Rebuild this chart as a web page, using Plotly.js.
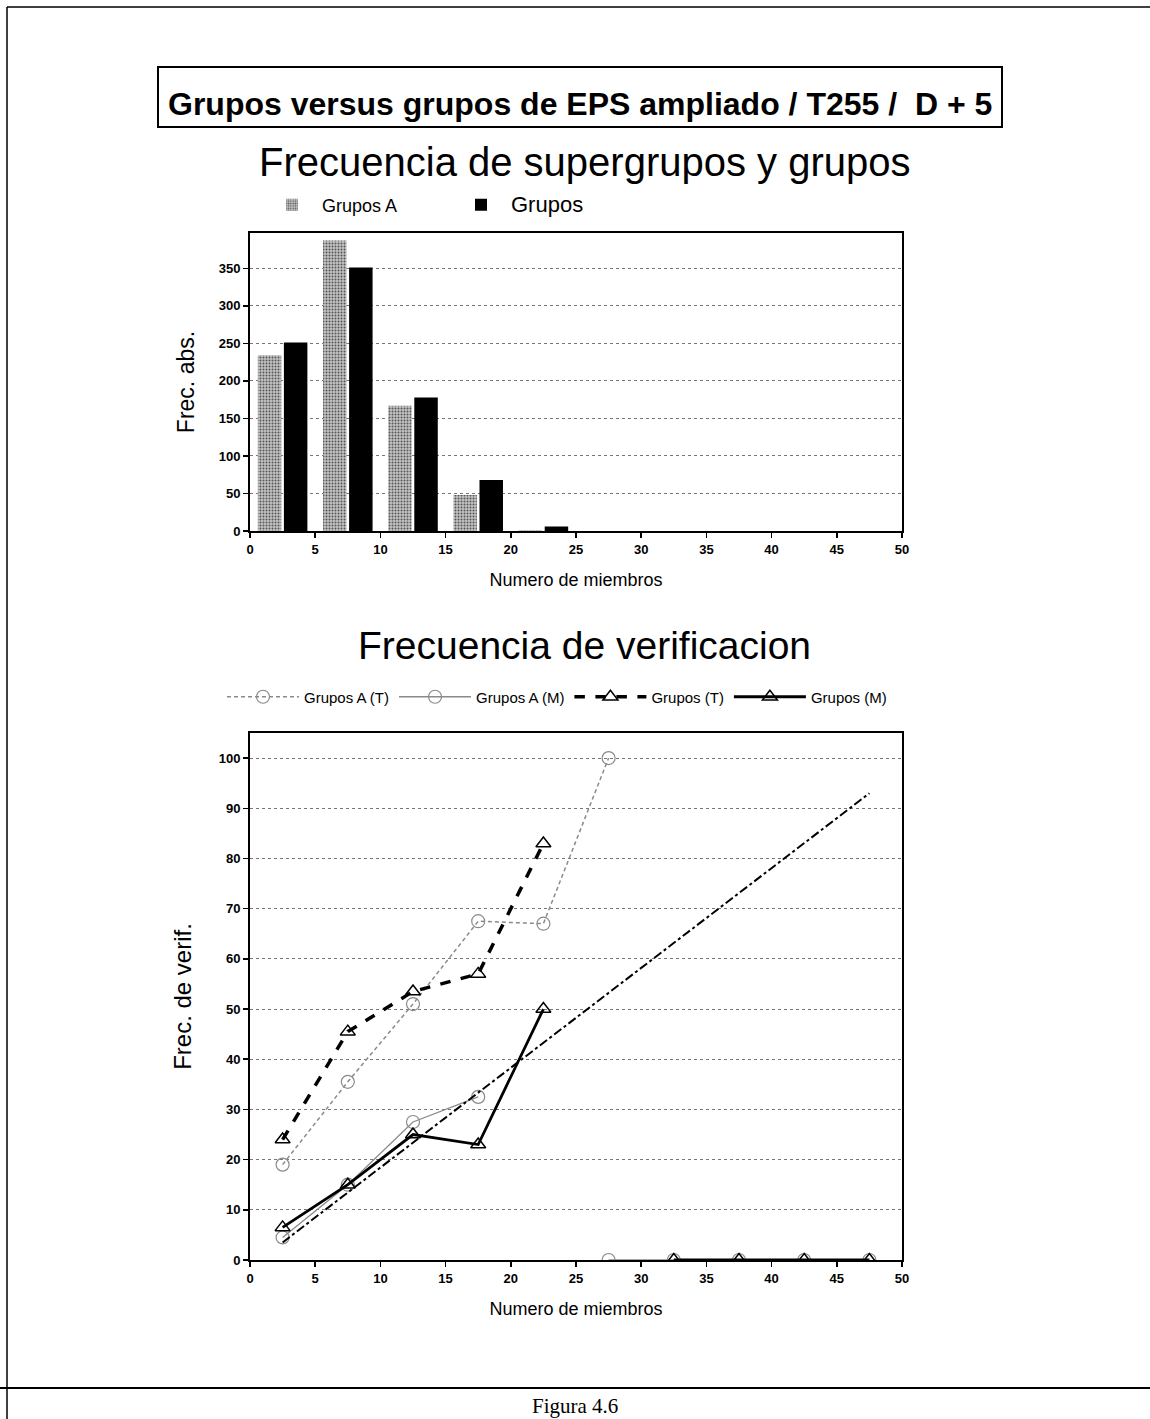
<!DOCTYPE html>
<html>
<head>
<meta charset="utf-8">
<script src="https://cdn.plot.ly/plotly-3.0.1.min.js"></script>
<style>html,body{margin:0;padding:0;background:#fff;}#chart{width:1150px;height:1419px;}</style>
</head>
<body>
<div id="chart"></div>
<script>
// ---- Data: frequency of supergroups and groups ----
const binCenters = [2.5, 7.5, 12.5, 17.5, 22.5, 27.5, 32.5, 37.5, 42.5, 47.5];
const gruposA_freq = [234, 387, 167, 48, 1, 0, 0, 0, 0, 0];
const grupos_freq  = [251, 351, 178, 68, 6, 0, 0, 0, 0, 0];

// ---- Data: verification frequency ----
const verifX = [2.5, 7.5, 12.5, 17.5, 22.5, 27.5, 32.5, 37.5, 42.5, 47.5];
const gruposA_T = [19, 35.5, 51, 67.5, 67, 100, null, null, null, null];
const gruposA_M = [4.5, 15, 27.5, 32.5, null, 0, 0, 0, 0, 0];
const grupos_T  = [24, 45.5, 53.5, 57, 83, null, null, null, null, null];
const grupos_M  = [6.5, 15, 25, 23, 50, null, 0, 0, 0, 0];
const diagX = [2.5, 47.5];
const diagY = [3.5, 93];

const xTicks = [0, 5, 10, 15, 20, 25, 30, 35, 40, 45, 50];
const yTicksTop = [0, 50, 100, 150, 200, 250, 300, 350];
const yTicksBottom = [0, 10, 20, 30, 40, 50, 60, 70, 80, 90, 100];

const W = 1150, H = 1419;
const px = v => v / W;
const py = v => 1 - v / H;

const tickFont = {family: 'Liberation Sans, Arial, sans-serif', size: 13, color: '#000', weight: 'bold'};
const axisCommon = {
  showline: true, linecolor: '#000', linewidth: 2, mirror: true,
  ticks: 'outside', ticklen: 5, tickwidth: 1.5, tickcolor: '#000',
  tickfont: tickFont, zeroline: false
};

const traces = [
  {type: 'bar', name: 'Grupos A', x: binCenters, y: gruposA_freq, xaxis: 'x', yaxis: 'y',
   marker: {color: '#b4b4b4', line: {width: 0},
            pattern: {shape: '.', fgcolor: '#555', bgcolor: '#c4c4c4', size: 3, solidity: 0.35}},
   legend: 'legend'},
  {type: 'bar', name: '<span style="font-size:22px">Grupos</span>', x: binCenters, y: grupos_freq, xaxis: 'x', yaxis: 'y',
   marker: {color: '#000', line: {width: 0}}, legend: 'legend'},

  {type: 'scatter', mode: 'lines+markers', name: 'Grupos A (T)', x: verifX, y: gruposA_T,
   xaxis: 'x2', yaxis: 'y2', legend: 'legend2', connectgaps: false,
   line: {color: '#8a8a8a', width: 1.5, dash: '4px,3px'},
   marker: {symbol: 'circle-open', size: 13, color: '#8a8a8a', line: {width: 1.2}}},
  {type: 'scatter', mode: 'lines+markers', name: 'Grupos A (M)', x: verifX, y: gruposA_M,
   xaxis: 'x2', yaxis: 'y2', legend: 'legend2', connectgaps: false,
   line: {color: '#8a8a8a', width: 1.3},
   marker: {symbol: 'circle-open', size: 13, color: '#8a8a8a', line: {width: 1.2}}},
  {type: 'scatter', mode: 'lines+markers', name: 'Grupos (T)', x: verifX, y: grupos_T,
   xaxis: 'x2', yaxis: 'y2', legend: 'legend2', connectgaps: false,
   line: {color: '#000', width: 3.5, dash: 'dash'},
   marker: {symbol: 'triangle-up-open', size: 13, color: '#000', line: {width: 1.5}}},
  {type: 'scatter', mode: 'lines+markers', name: 'Grupos (M)', x: verifX, y: grupos_M,
   xaxis: 'x2', yaxis: 'y2', legend: 'legend2', connectgaps: false,
   line: {color: '#000', width: 2.8},
   marker: {symbol: 'triangle-up-open', size: 13, color: '#000', line: {width: 1.5}}},
  {type: 'scatter', mode: 'lines', name: 'diagonal', x: diagX, y: diagY,
   xaxis: 'x2', yaxis: 'y2', showlegend: false,
   line: {color: '#000', width: 2, dash: 'dashdot'}}
];

const layout = {
  width: W, height: H,
  margin: {l: 0, r: 0, t: 0, b: 0},
  paper_bgcolor: '#fff', plot_bgcolor: '#fff',
  font: {family: 'Liberation Sans, Arial, sans-serif', color: '#000'},
  barmode: 'group', bargap: 0.2, bargroupgap: 0.1,
  xaxis: Object.assign({}, axisCommon, {
    domain: [px(250), px(902)], anchor: 'y', range: [0, 50], tickvals: xTicks,
    showgrid: false,
    title: {text: 'Numero de miembros', font: {size: 18}, standoff: 18}
  }),
  yaxis: Object.assign({}, axisCommon, {
    domain: [py(531), py(233)], anchor: 'x', range: [0, 397], tickvals: yTicksTop,
    showgrid: true, gridcolor: '#777', griddash: 'dot', gridwidth: 1,
    title: {text: 'Frec. abs.', font: {size: 23}, standoff: 18}
  }),
  xaxis2: Object.assign({}, axisCommon, {
    domain: [px(250), px(902)], anchor: 'y2', range: [0, 50], tickvals: xTicks,
    showgrid: false,
    title: {text: 'Numero de miembros', font: {size: 18}, standoff: 18}
  }),
  yaxis2: Object.assign({}, axisCommon, {
    domain: [py(1260), py(733)], anchor: 'x2', range: [0, 105], tickvals: yTicksBottom,
    showgrid: true, gridcolor: '#777', griddash: 'dot', gridwidth: 1,
    title: {text: 'Frec. de verif.', font: {size: 24}, standoff: 20}
  }),
  legend: {
    orientation: 'h', x: px(262), y: py(205), xanchor: 'left', yanchor: 'middle',
    font: {size: 18}, bgcolor: 'rgba(0,0,0,0)', traceorder: 'normal',
    itemwidth: 50, entrywidth: 124
  },
  legend2: {
    orientation: 'h', x: px(222), y: py(697), xanchor: 'left', yanchor: 'middle',
    font: {size: 15}, bgcolor: 'rgba(0,0,0,0)', itemwidth: 72, traceorder: 'normal'
  },
  shapes: [
    {type: 'line', xref: 'paper', yref: 'paper', x0: px(7), x1: px(7), y0: 0, y1: py(7), line: {color: '#000', width: 1.5}},
    {type: 'line', xref: 'paper', yref: 'paper', x0: px(7), x1: 1, y0: py(7), y1: py(7), line: {color: '#000', width: 1.5}},
    {type: 'line', xref: 'paper', yref: 'paper', x0: 0, x1: 1, y0: py(1388), y1: py(1388), line: {color: '#000', width: 2}},
    {type: 'rect', xref: 'paper', yref: 'paper', x0: px(158), x1: px(1002), y0: py(127), y1: py(67), line: {color: '#000', width: 2}}
  ],
  annotations: [
    {xref: 'paper', yref: 'paper', x: px(580), y: py(104), xanchor: 'center', yanchor: 'middle', showarrow: false,
     text: '<b>Grupos versus grupos de EPS ampliado / T255 /  D + 5</b>', font: {size: 32}},
    {xref: 'paper', yref: 'paper', x: px(584), y: py(162), xanchor: 'center', yanchor: 'middle', showarrow: false,
     text: 'Frecuencia de supergrupos y grupos', font: {size: 40}},
    {xref: 'paper', yref: 'paper', x: px(584), y: py(645), xanchor: 'center', yanchor: 'middle', showarrow: false,
     text: 'Frecuencia de verificacion', font: {size: 39}},
    {xref: 'paper', yref: 'paper', x: px(575), y: py(1406), xanchor: 'center', yanchor: 'middle', showarrow: false,
     text: 'Figura 4.6', font: {size: 21, family: 'Liberation Serif, Times New Roman, serif'}}
  ]
};

Plotly.newPlot('chart', traces, layout, {displayModeBar: false, staticPlot: true});
</script>
</body>
</html>
